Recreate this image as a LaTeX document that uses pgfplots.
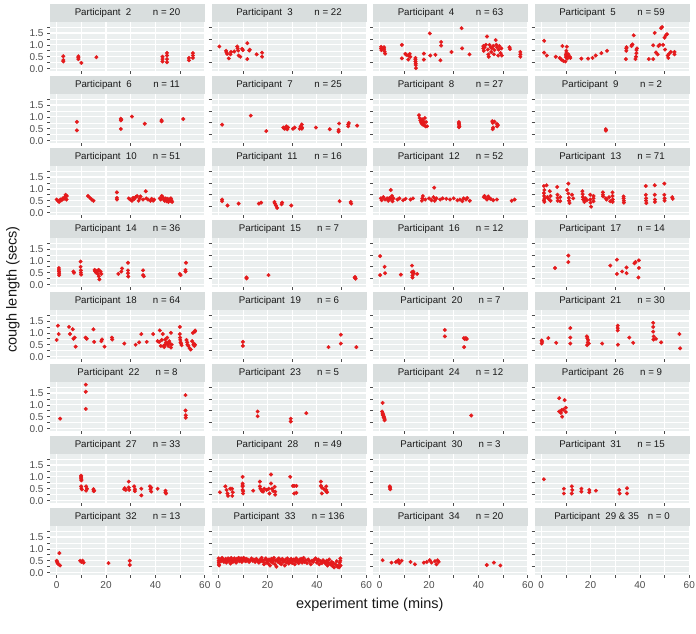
\documentclass[border=0pt]{standalone}
\usepackage{pgfplots}
\pgfplotsset{compat=1.18}
\usepackage{fontspec}
\setmainfont{Liberation Sans}
\definecolor{panelbg}{RGB}{235,239,239}
\definecolor{stripbg}{RGB}{217,222,222}
\definecolor{ptred}{RGB}{228,26,28}
\definecolor{tickgray}{RGB}{77,77,77}
\definecolor{stripfg}{RGB}{26,26,26}
\pgfplotsset{
  facet/.style={
    width=155pt, height=48.5pt, scale only axis,
    xmin=-2.7, xmax=60.1, ymin=-0.1, ymax=1.94,
    axis background/.style={fill=panelbg},
    axis line style={draw=none},
    xtick={0,20,40,60}, ytick={0,0.5,1,1.5},
    minor xtick={10,30,50}, minor ytick={0.25,0.75,1.25,1.75},
    grid=both,
    major grid style={white, line width=1.1pt},
    minor grid style={white, line width=0.55pt},
    xmajorticks=false, ymajorticks=false, xminorticks=false, yminorticks=false,
    tick align=outside, major tick length=2.75pt,
    xtick pos=bottom, ytick pos=left,
    tick style={color=black!70, line width=0.6pt},
    xticklabels={}, yticklabels={},
    ticklabel style={font=\fontsize{10}{11}\selectfont, text=tickgray},
    xticklabel style={yshift=-0.3pt},
    yticklabel style={xshift=-0.3pt},
  },
  ylab/.style={ymajorticks=true, yticklabels={0.0,0.5,1.0,1.5}},
  xlab/.style={xmajorticks=true, xticklabels={0,20,40,60}},
  pts/.style={only marks, mark=*, mark size=1.8pt, color=ptred, mark options={draw=none, fill=ptred}},
}
\newcommand{\ptxt}[2]{Participant\ \ \makebox[27pt][l]{#1}n = #2}
\newcommand{\pc}[1]{\addplot[pts] coordinates {#1};}
\newcommand{\panel}[5]{%
  \pgfmathsetmacro{\px}{50+#1*161.5}%
  \pgfmathsetmacro{\py}{634-71-#2*72}%
  \begin{axis}[facet,#4,at={(\px pt,\py pt)},anchor=south west]
    #5
  \end{axis}
  \pgfmathsetmacro{\sy}{\py+48.5}%
  \fill[stripbg] (\px pt,\sy pt) rectangle ++(155pt,18.5pt);
  \node[font=\fontsize{9.7}{11}\selectfont, text=stripfg, inner sep=0pt] at ({\px pt+77.5pt},{\sy pt+9.25pt}) {#3};
}
\begin{document}
\begin{tikzpicture}
\path[use as bounding box] (0pt,0pt) rectangle (696pt,634pt);
% Row 1
\panel{0}{0}{\ptxt{2}{20}}{ylab}{\pc{(2.7,0.3)(2.7,0.36)(2.7,0.52)(8.8,0.4)(8.8,0.47)(8.8,0.52)(10.0,0.24)(16.1,0.48)(42.9,0.3)(42.9,0.4)(42.9,0.5)(44.7,0.27)(44.7,0.4)(44.7,0.55)(44.7,0.66)(53.6,0.35)(53.6,0.45)(55.2,0.45)(55.2,0.55)(55.2,0.65)}}
\panel{1}{0}{\ptxt{3}{22}}{}{\pc{(0.5,0.93)(3.2,0.75)(3.4,0.68)(3.6,0.62)(4.3,0.43)(5.0,0.6)(5.2,0.7)(6.5,0.72)(7.7,0.93)(7.9,0.85)(8.1,0.76)(8.3,0.55)(9.0,0.5)(9.7,0.83)(10.0,0.78)(11.8,0.4)(11.8,1.07)(12.6,0.76)(12.8,0.8)(15.6,0.6)(17.8,0.67)(17.8,0.5)}}
\panel{2}{0}{\ptxt{4}{63}}{}{\pc{(0.6,0.92)(0.6,0.85)(0.7,0.78)(1.8,0.9)(1.8,0.82)(2.0,0.72)(2.2,0.63)(9.0,1.0)(9.0,0.43)(10.4,0.62)(10.8,0.58)(11.6,0.55)(11.6,0.38)(12.2,0.62)(12.4,0.5)(14.5,0.45)(14.5,0.38)(14.5,0.3)(14.6,0.22)(14.6,0.15)(14.7,0.02)(17.9,0.63)(17.9,0.38)(20.3,1.48)(20.5,0.55)(22.6,0.58)(24.9,1.12)(24.9,0.97)(24.6,0.35)(29.1,0.7)(33.2,1.7)(33.4,0.85)(36.4,0.6)(42.0,0.95)(42.0,0.85)(42.2,0.75)(42.5,0.9)(43.0,1.0)(43.5,1.35)(43.8,0.8)(44.0,0.6)(44.2,0.5)(44.5,1.0)(45.0,0.9)(45.2,0.7)(45.5,0.85)(46.0,0.95)(46.3,0.6)(46.5,0.78)(47.0,1.2)(47.3,1.0)(47.5,0.9)(48.0,0.55)(48.2,0.8)(48.5,0.95)(49.0,0.65)(49.3,0.85)(49.5,0.55)(52.6,0.9)(52.8,0.82)(57.0,0.5)(57.0,0.6)(57.0,0.7)}}
\panel{3}{0}{\ptxt{5}{59}}{}{\pc{(1.2,1.17)(1.2,0.67)(2.3,0.55)(5.9,0.5)(7.5,0.45)(8.2,0.38)(8.6,0.95)(9.0,0.32)(9.8,0.3)(10.0,0.48)(10.0,0.58)(10.2,0.65)(10.2,0.75)(10.4,0.92)(10.5,0.42)(10.8,0.52)(11.0,0.6)(11.6,0.5)(11.8,0.45)(16.3,0.42)(19.0,0.42)(20.8,0.45)(22.1,0.55)(24.4,0.65)(26.7,0.75)(34.3,0.4)(34.5,0.75)(34.5,0.85)(34.6,0.9)(36.6,0.95)(36.8,1.0)(37.0,1.02)(37.5,1.4)(38.2,0.4)(38.4,0.5)(38.6,0.65)(38.6,0.78)(38.8,0.85)(43.6,0.4)(45.4,0.4)(45.4,0.98)(46.0,1.5)(46.5,0.68)(47.5,0.95)(48.0,1.0)(48.6,1.7)(49.0,1.75)(49.4,1.0)(50.0,1.3)(50.5,1.4)(51.0,1.45)(51.3,0.55)(51.5,0.45)(51.8,0.62)(52.5,0.7)(54.0,0.6)(54.0,0.7)(50.2,0.8)(47.2,0.6)}}
% Row 2
\panel{0}{1}{\ptxt{6}{11}}{ylab}{\pc{(8.2,0.79)(8.2,0.43)(26.0,0.92)(26.0,0.85)(26.0,0.49)(30.5,1.01)(35.7,0.71)(42.5,0.86)(42.5,0.81)(51.3,0.91)(26.2,0.88)}}
\panel{1}{1}{\ptxt{7}{25}}{}{\pc{(1.6,0.67)(13.2,1.05)(19.5,0.4)(26.4,0.55)(26.8,0.5)(27.2,0.52)(27.6,0.6)(28.0,0.48)(28.3,0.55)(30.3,0.5)(31.0,0.55)(33.0,0.5)(33.4,0.6)(33.9,0.68)(33.9,0.5)(34.0,0.55)(39.6,0.55)(45.2,0.48)(48.8,0.38)(48.8,0.45)(49.0,0.72)(52.7,0.6)(52.7,0.68)(52.9,0.74)(56.3,0.63)}}
\panel{2}{1}{\ptxt{8}{27}}{}{\pc{(15.9,1.07)(16.2,0.95)(16.5,0.85)(16.8,0.78)(17.0,0.72)(17.2,0.9)(17.4,0.68)(17.6,0.82)(17.8,0.75)(18.0,0.65)(18.3,0.95)(18.6,0.6)(18.8,0.78)(19.2,0.6)(32.1,0.78)(32.1,0.72)(32.2,0.66)(32.3,0.6)(32.1,0.56)(45.6,0.82)(45.8,0.75)(46.0,0.55)(45.8,0.48)(46.5,0.8)(47.5,0.7)(47.9,0.65)(47.6,0.6)}}
\panel{3}{1}{\ptxt{9}{2}}{}{\pc{(26.2,0.48)(26.2,0.42)}}
% Row 3
\panel{0}{2}{\ptxt{10}{51}}{ylab}{\pc{(0.0,0.55)(0.5,0.5)(1.0,0.45)(1.5,0.55)(2.0,0.52)(2.5,0.6)(3.0,0.58)(3.3,0.65)(3.6,0.75)(4.0,0.55)(4.1,0.7)(12.7,0.7)(13.5,0.62)(14.2,0.55)(14.9,0.5)(24.4,0.85)(24.4,0.55)(24.4,0.62)(29.2,0.6)(29.8,0.55)(30.5,0.5)(31.0,0.62)(31.5,0.58)(32.0,0.65)(32.6,0.7)(33.2,0.5)(33.6,0.6)(34.0,0.68)(35.0,0.55)(36.1,0.9)(36.3,0.6)(37.0,0.55)(38.0,0.5)(38.5,0.58)(39.1,0.5)(39.5,0.55)(41.8,0.6)(42.2,0.55)(42.6,0.7)(43.0,0.65)(43.4,0.55)(43.8,0.5)(44.2,0.6)(44.6,0.48)(45.0,0.58)(45.3,0.45)(45.6,0.55)(46.0,0.5)(46.3,0.6)(46.5,0.52)(46.8,0.45)}}
\panel{1}{2}{\ptxt{11}{16}}{}{\pc{(1.6,0.55)(1.6,0.48)(3.8,0.3)(8.3,0.38)(16.5,0.38)(17.4,0.42)(22.8,0.45)(23.0,0.38)(23.4,0.3)(23.9,0.2)(25.7,0.35)(25.9,0.42)(29.6,0.3)(49.2,0.48)(53.7,0.45)(53.9,0.38)}}
\panel{2}{2}{\ptxt{12}{52}}{}{\pc{(0.5,0.6)(0.8,0.52)(1.5,0.65)(2.2,0.55)(3.0,0.6)(3.5,0.5)(4.0,0.62)(4.5,0.58)(4.5,0.95)(5.0,0.7)(5.2,0.48)(5.6,0.6)(7.2,0.55)(8.0,0.6)(9.5,0.52)(10.5,0.58)(12.5,0.55)(13.5,0.6)(17.1,0.5)(17.3,0.6)(17.5,0.7)(18.5,0.55)(20.0,0.6)(21.0,0.52)(21.8,0.65)(22.1,1.05)(22.3,0.5)(22.5,0.58)(23.0,0.6)(24.5,0.55)(25.5,0.6)(27.0,0.58)(28.5,0.55)(30.0,0.6)(31.5,0.52)(32.5,0.55)(33.5,0.48)(34.0,0.6)(35.0,0.55)(35.5,0.62)(36.5,0.5)(42.2,0.65)(42.5,0.7)(43.0,0.6)(43.5,0.55)(44.0,0.68)(44.5,0.6)(45.0,0.58)(46.0,0.52)(47.5,0.55)(53.5,0.5)(54.7,0.55)}}
\panel{3}{2}{\ptxt{13}{71}}{}{\pc{(1.1,1.12)(1.3,0.95)(1.1,0.82)(1.2,0.7)(1.4,0.6)(1.1,0.52)(1.3,0.45)(2.2,1.15)(2.5,0.65)(3.0,0.58)(3.5,0.9)(3.8,0.7)(3.8,0.5)(6.5,1.08)(6.6,0.75)(6.6,0.62)(6.7,0.5)(7.7,0.65)(7.7,0.48)(10.5,0.95)(11.0,1.22)(11.0,0.8)(11.2,0.62)(11.3,0.5)(11.5,0.4)(12.5,0.75)(13.0,0.6)(16.7,0.9)(16.8,0.78)(16.9,0.65)(17.0,0.55)(17.5,0.45)(18.0,0.6)(18.5,0.52)(19.9,0.75)(19.9,0.55)(20.0,0.42)(20.2,0.25)(21.2,0.6)(21.2,0.48)(21.2,0.7)(25.0,0.85)(25.0,0.75)(25.1,0.68)(26.2,0.6)(26.5,0.55)(27.5,0.65)(28.0,0.48)(28.9,0.85)(28.9,0.7)(29.0,0.55)(29.0,0.45)(33.4,0.68)(33.4,0.6)(33.5,0.5)(33.5,0.42)(42.4,1.12)(42.4,0.75)(42.5,0.6)(42.5,0.5)(42.6,0.4)(46.0,1.15)(46.0,0.75)(46.1,0.55)(46.1,0.45)(49.9,1.22)(49.9,0.75)(50.0,0.6)(50.0,0.5)(53.1,0.65)(53.3,0.58)}}
% Row 4
\panel{0}{3}{\ptxt{14}{36}}{ylab}{\pc{(0.9,0.7)(0.9,0.62)(0.9,0.55)(1.0,0.48)(1.0,0.4)(6.8,0.55)(7.0,0.5)(9.7,0.97)(9.7,0.75)(9.8,0.6)(9.8,0.5)(9.9,0.42)(15.4,0.62)(15.6,0.55)(16.0,0.5)(16.4,0.58)(16.7,0.45)(17.0,0.62)(17.1,0.35)(17.3,0.22)(17.8,0.55)(18.1,0.45)(25.0,0.45)(26.2,0.55)(26.5,0.68)(28.9,0.92)(28.9,0.6)(28.9,0.48)(29.0,0.34)(35.0,0.6)(35.0,0.4)(35.3,0.35)(49.9,0.45)(50.2,0.4)(52.2,0.55)(52.2,0.62)(52.4,0.92)}}
\panel{1}{3}{\ptxt{15}{7}}{}{\pc{(11.5,0.3)(11.5,0.26)(20.4,0.4)(55.5,0.32)(55.5,0.28)(55.7,0.25)(55.3,0.3)}}
\panel{2}{3}{\ptxt{16}{12}}{}{\pc{(0.2,1.2)(0.2,0.4)(2.0,0.75)(2.2,0.48)(8.6,0.42)(13.1,0.8)(13.1,0.52)(13.3,0.38)(13.3,0.3)(13.6,0.55)(13.8,0.48)(15.2,0.45)}}
\panel{3}{3}{\ptxt{17}{14}}{}{\pc{(5.6,0.7)(11.0,1.22)(11.0,0.95)(28.0,0.8)(30.7,1.05)(30.7,0.45)(32.8,0.55)(34.6,0.72)(34.6,0.48)(37.8,0.9)(38.2,0.95)(39.6,1.02)(39.6,0.7)(39.4,0.3)}}
% Row 5
\panel{0}{4}{\ptxt{18}{64}}{ylab}{\pc{(0.0,0.7)(0.5,1.3)(0.8,0.95)(5.0,1.25)(5.4,0.95)(6.5,1.15)(6.8,0.75)(7.3,0.8)(7.7,0.42)(11.7,0.8)(12.2,0.75)(14.9,1.15)(15.2,0.62)(18.1,0.65)(18.4,0.72)(19.4,0.42)(22.4,0.8)(22.5,0.72)(27.4,0.55)(32.0,0.5)(33.4,0.6)(34.3,0.95)(36.5,0.62)(39.1,0.95)(40.9,0.65)(41.8,1.1)(42.2,0.45)(42.6,0.7)(43.0,0.95)(43.3,0.45)(43.6,0.4)(43.9,0.5)(44.3,0.6)(44.8,0.8)(45.2,0.45)(45.6,0.65)(46.0,0.55)(46.3,1.0)(46.3,0.38)(46.6,0.5)(41.5,0.62)(44.0,0.72)(45.0,0.55)(49.9,1.25)(49.9,0.95)(50.1,0.7)(50.2,0.6)(50.4,0.55)(50.0,0.8)(52.6,0.7)(52.9,0.6)(53.4,0.45)(53.9,0.35)(54.3,0.3)(54.9,0.65)(55.2,1.0)(55.4,0.5)(55.8,0.45)(56.1,1.1)(56.1,0.5)(56.0,1.05)(55.6,0.55)(53.0,0.5)(50.6,0.48)}}
\panel{1}{4}{\ptxt{19}{6}}{}{\pc{(10.0,0.62)(10.0,0.45)(44.7,0.4)(49.7,0.92)(49.7,0.55)(56.0,0.4)}}
\panel{2}{4}{\ptxt{20}{7}}{}{\pc{(26.4,1.12)(26.4,0.85)(34.1,0.78)(34.5,0.74)(34.9,0.78)(35.3,0.74)(34.2,0.4)}}
\panel{3}{4}{\ptxt{21}{30}}{}{\pc{(0.2,0.68)(0.2,0.55)(0.4,0.62)(2.9,0.78)(6.1,0.58)(11.8,1.2)(11.8,0.8)(11.8,0.55)(18.5,0.85)(18.7,0.78)(18.9,0.6)(18.6,0.48)(19.3,0.55)(19.0,0.7)(24.7,0.55)(31.0,1.3)(31.0,1.2)(31.0,1.1)(31.1,0.5)(35.7,0.8)(37.3,0.58)(45.4,1.42)(45.4,1.25)(45.4,1.05)(45.5,0.72)(46.5,0.75)(48.6,0.6)(56.0,0.95)(56.3,0.35)(45.6,0.85)}}
% Row 6
\panel{0}{5}{\ptxt{22}{8}}{ylab}{\pc{(1.4,0.42)(11.8,1.85)(11.8,1.55)(11.8,0.83)(52.2,1.41)(52.2,0.76)(52.3,0.56)(52.3,0.46)}}
\panel{1}{5}{\ptxt{23}{5}}{}{\pc{(16.0,0.72)(16.0,0.52)(29.4,0.42)(29.4,0.3)(35.7,0.65)}}
\panel{2}{5}{\ptxt{24}{12}}{}{\pc{(1.2,1.08)(1.0,0.72)(1.2,0.65)(1.4,0.6)(1.5,0.55)(1.7,0.5)(1.8,0.45)(2.0,0.4)(2.0,0.35)(1.6,0.48)(1.3,0.58)(37.1,0.55)}}
\panel{3}{5}{\ptxt{26}{9}}{}{\pc{(7.3,1.28)(9.5,1.2)(7.3,0.72)(8.3,0.78)(8.0,0.66)(10.0,0.88)(10.0,0.7)(8.5,0.5)(9.0,0.8)}}
% Row 7
\panel{0}{6}{\ptxt{27}{33}}{ylab}{\pc{(9.9,1.05)(9.9,1.0)(9.9,0.95)(10.0,0.9)(10.0,0.85)(9.9,0.6)(10.0,0.52)(10.2,0.47)(11.9,0.6)(12.3,0.5)(11.9,0.42)(14.9,0.48)(15.2,0.42)(15.0,0.4)(27.4,0.48)(27.6,0.52)(28.0,0.45)(29.2,0.8)(29.2,0.55)(29.4,0.45)(31.4,0.6)(31.7,0.48)(31.7,0.4)(34.3,0.5)(34.3,0.22)(37.8,0.6)(38.3,0.55)(38.0,0.48)(38.3,0.38)(40.9,0.5)(44.1,0.42)(44.1,0.35)(44.3,0.3)}}
\panel{1}{6}{\ptxt{28}{49}}{}{\pc{(0.7,0.35)(2.9,0.6)(3.4,0.45)(3.8,0.3)(4.0,0.2)(4.9,0.5)(5.6,0.5)(5.9,0.35)(5.7,0.2)(9.9,1.0)(9.9,0.72)(9.9,0.65)(9.9,0.6)(9.9,0.45)(10.1,0.4)(10.1,0.3)(14.2,0.42)(16.9,0.8)(16.9,0.6)(17.1,0.5)(17.5,0.45)(17.8,0.4)(18.2,0.38)(18.7,0.5)(19.6,0.45)(20.5,0.5)(20.8,0.3)(21.4,1.1)(21.4,0.72)(21.8,0.5)(22.3,0.4)(22.9,0.58)(23.1,0.25)(23.1,0.38)(29.2,1.0)(30.3,0.62)(30.8,0.62)(31.7,0.62)(30.8,0.3)(31.7,0.33)(41.6,0.8)(41.6,0.62)(42.0,0.55)(42.9,0.48)(43.8,0.6)(43.8,0.45)(43.8,0.38)(42.0,0.3)(44.1,0.35)}}
\panel{2}{6}{\ptxt{30}{3}}{}{\pc{(4.1,0.6)(4.2,0.54)(4.3,0.48)}}
\panel{3}{6}{\ptxt{31}{15}}{}{\pc{(1.1,0.9)(9.2,0.5)(9.2,0.3)(12.4,0.6)(12.6,0.45)(12.4,0.3)(16.3,0.5)(16.3,0.38)(19.5,0.45)(19.5,0.35)(22.2,0.42)(31.6,0.45)(31.8,0.3)(34.8,0.52)(34.8,0.3)}}
% Row 8
\panel{0}{7}{\ptxt{32}{13}}{ylab,xlab}{\pc{(0.0,0.5)(0.2,0.45)(0.4,0.4)(0.7,0.35)(1.1,0.82)(1.4,0.3)(9.5,0.5)(10.0,0.45)(10.5,0.5)(10.9,0.42)(21.0,0.4)(29.6,0.5)(29.6,0.32)}}
\panel{1}{7}{\ptxt{33}{136}}{xlab}{\pc{(0.2,0.6)(0.2,0.5)(0.3,0.42)(0.3,0.35)(0.4,0.3)(0.8,0.55)(1.2,0.48)(1.6,0.62)(2.0,0.55)(2.3,0.45)(2.7,0.5)(3.0,0.58)(3.3,0.42)(3.7,0.52)(4.0,0.6)(4.3,0.48)(4.6,0.55)(5.0,0.38)(5.3,0.62)(5.6,0.5)(6.0,0.45)(6.3,0.55)(6.6,0.6)(7.0,0.5)(7.3,0.42)(7.6,0.58)(8.0,0.52)(8.3,0.62)(8.6,0.48)(9.0,0.55)(9.3,0.6)(9.6,0.45)(10.0,0.52)(10.3,0.62)(10.6,0.55)(11.0,0.48)(11.3,0.58)(11.6,0.5)(12.0,0.55)(12.5,0.45)(13.0,0.52)(13.5,0.6)(14.0,0.5)(14.5,0.55)(15.0,0.45)(15.5,0.58)(16.0,0.5)(16.5,0.42)(17.0,0.55)(17.3,0.48)(17.6,0.62)(18.0,0.52)(18.3,0.45)(18.6,0.35)(19.0,0.55)(19.3,0.6)(19.6,0.42)(20.0,0.5)(20.3,0.38)(20.6,0.55)(21.0,0.3)(21.3,0.48)(21.6,0.58)(22.0,0.42)(22.3,0.52)(22.6,0.62)(23.0,0.35)(23.3,0.5)(23.6,0.25)(24.0,0.55)(24.3,0.45)(24.6,0.6)(25.0,0.4)(25.3,0.52)(25.6,0.35)(26.0,0.58)(26.3,0.45)(26.6,0.5)(27.0,0.3)(27.3,0.55)(27.6,0.42)(28.0,0.6)(28.3,0.48)(28.6,0.38)(29.0,0.52)(29.3,0.45)(29.6,0.58)(30.0,0.4)(30.3,0.5)(30.6,0.55)(31.0,0.35)(31.3,0.48)(31.6,0.6)(32.0,0.45)(32.3,0.52)(32.6,0.4)(33.0,0.55)(33.3,0.48)(33.6,0.58)(34.0,0.42)(34.3,0.5)(34.6,0.62)(35.0,0.45)(35.5,0.52)(36.0,0.4)(36.5,0.55)(37.0,0.48)(37.5,0.35)(38.0,0.5)(38.5,0.45)(39.0,0.55)(39.5,0.6)(40.0,0.42)(40.3,0.5)(40.6,0.55)(41.0,0.35)(41.5,0.48)(42.0,0.4)(42.5,0.52)(43.0,0.45)(43.5,0.38)(44.0,0.5)(44.3,0.3)(44.6,0.42)(45.0,0.55)(45.5,0.35)(46.0,0.45)(46.3,0.28)(46.6,0.4)(47.0,0.22)(47.5,0.35)(48.0,0.48)(48.3,0.25)(48.6,0.3)(49.0,0.22)(49.2,0.42)(49.5,0.6)(49.5,0.5)(49.6,0.3)}}
\panel{2}{7}{\ptxt{34}{20}}{xlab}{\pc{(1.2,0.52)(4.8,0.42)(6.6,0.45)(7.1,0.48)(7.6,0.52)(8.0,0.4)(8.9,0.5)(12.5,0.45)(14.3,0.35)(17.9,0.42)(19.1,0.45)(20.3,0.52)(21.0,0.42)(22.4,0.48)(23.0,0.35)(23.5,0.52)(23.9,0.45)(43.4,0.32)(46.3,0.42)(48.9,0.3)}}
\panel{3}{7}{Participant\ \ 29 \& 35\hspace{9pt}n = 0}{xlab}{}
% axis titles
\node[font=\fontsize{14.5}{16}\selectfont, text=black!90] at (369.75pt,29pt) {experiment time (mins)};
\node[font=\fontsize{14.5}{16}\selectfont, text=black!90, rotate=90] at (13pt,344.5pt) {cough length (secs)};
\end{tikzpicture}
\end{document}
